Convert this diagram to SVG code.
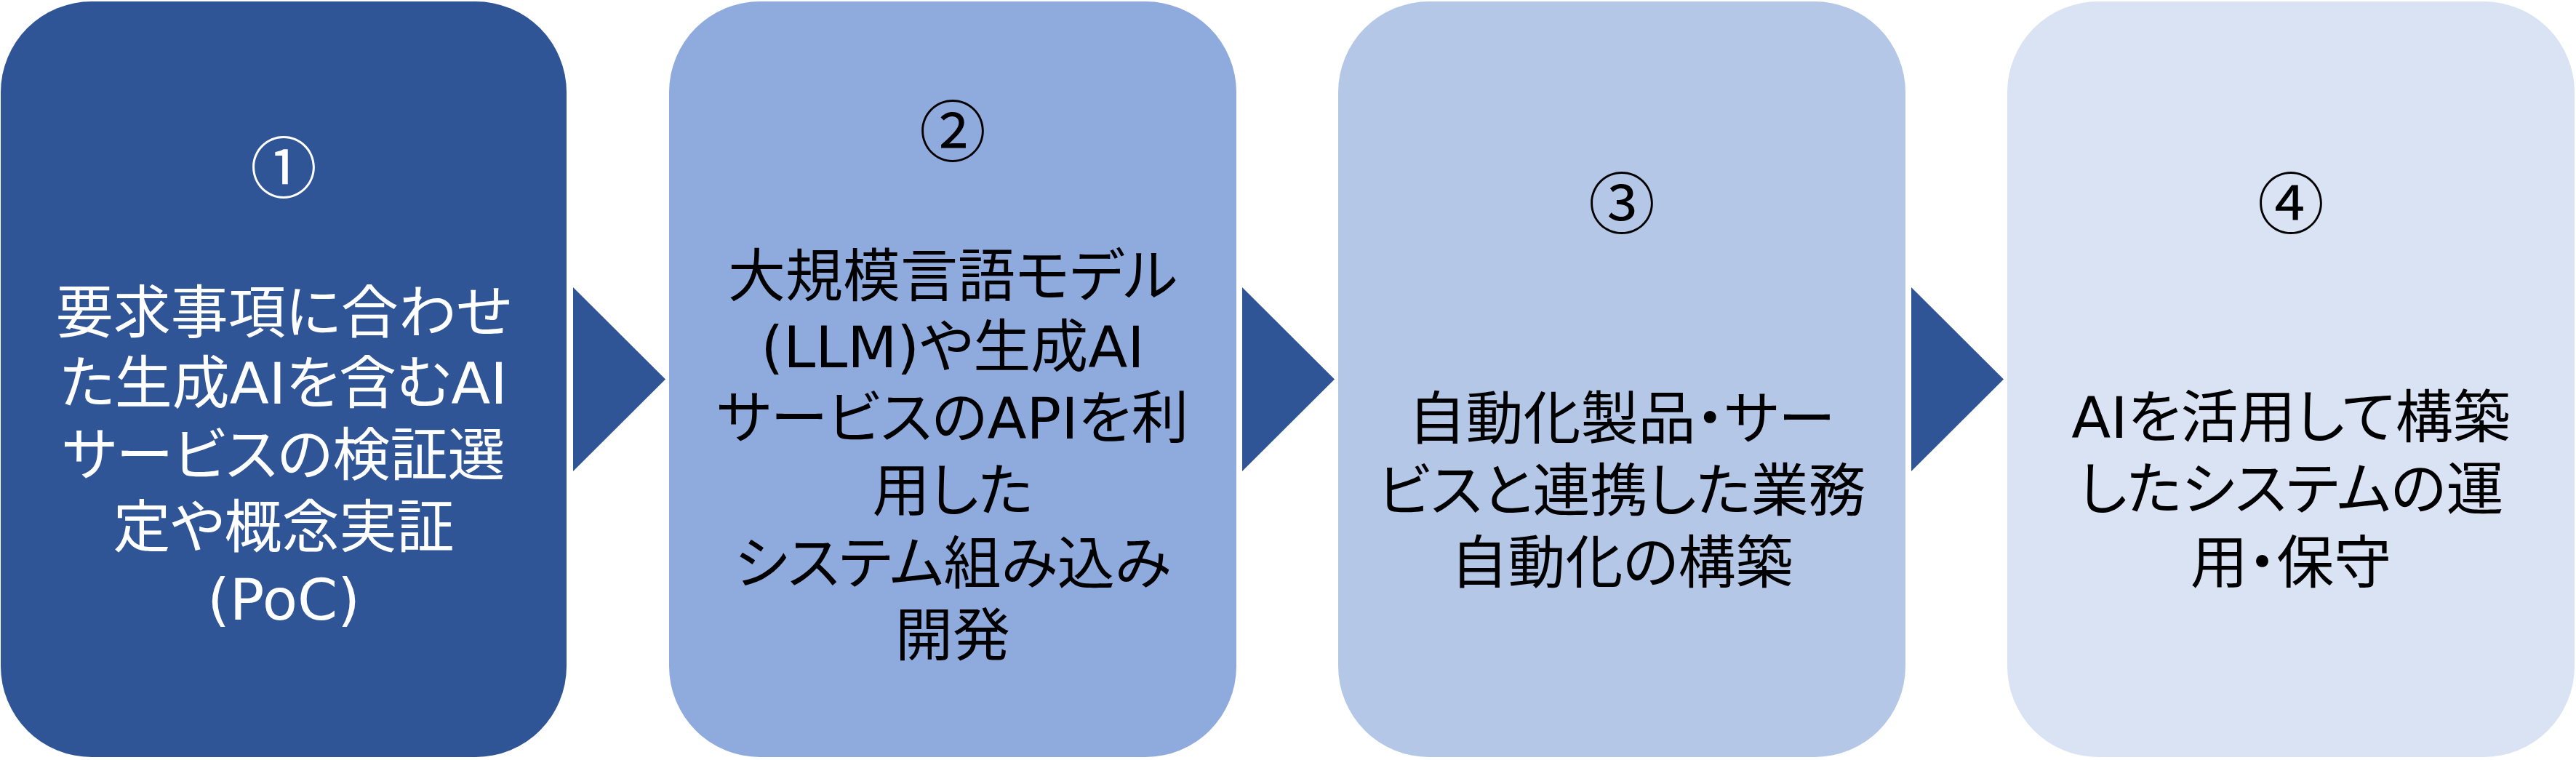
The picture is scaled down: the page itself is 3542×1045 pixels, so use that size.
<svg xmlns="http://www.w3.org/2000/svg" width="3542" height="1045" viewBox="0 0 3542 1045">
<style>
.box1{fill:#2F5597}
.box2{fill:#8FAADC}
.box3{fill:#B4C7E7}
.box4{fill:#DAE3F3}
.arrow{fill:#2F5597}
.t{font-family:"DejaVu Sans","Noto Sans CJK JP",sans-serif;font-size:79px;text-anchor:middle;font-feature-settings:"palt" 1}
.num{font-family:"Noto Sans CJK JP",sans-serif;font-size:92px;text-anchor:middle}
.w{fill:#FFFFFF}
.k{fill:#000000}
</style>
<rect width="3542" height="1045" fill="#FFFFFF"/>
<g id="node1">
<rect class="box1" x="1" y="2" width="778" height="1039" rx="125" ry="125"/>
<text class="num w" x="390" y="265">①</text>
<text class="t w"><tspan x="390" y="458">要求事項に合わせ</tspan><tspan x="390" y="555">た生成AIを含むAI</tspan><tspan x="390" y="654">サービスの検証選</tspan><tspan x="390" y="753">定や概念実証</tspan><tspan x="390" y="852">(PoC)</tspan></text>
</g>
<g id="node2">
<rect class="box2" x="920" y="2" width="780" height="1039" rx="125" ry="125"/>
<text class="num k" x="1310" y="215">②</text>
<text class="t k"><tspan x="1310" y="408">大規模言語モデル</tspan><tspan x="1310" y="505">(LLM)や生成AI</tspan><tspan x="1310" y="603">サービスのAPIを利</tspan><tspan x="1310" y="703">用した</tspan><tspan x="1310" y="803">システム組み込み</tspan><tspan x="1310" y="902">開発</tspan></text>
</g>
<g id="node3">
<rect class="box3" x="1840" y="2" width="780" height="1039" rx="125" ry="125"/>
<text class="num k" x="2230" y="314">③</text>
<text class="t k"><tspan x="2230" y="604">自動化製品・サー</tspan><tspan x="2230" y="703">ビスと連携した業務</tspan><tspan x="2230" y="802">自動化の構築</tspan></text>
</g>
<g id="node4">
<rect class="box4" x="2760" y="2" width="780" height="1039" rx="125" ry="125"/>
<text class="num k" x="3150" y="314">④</text>
<text class="t k"><tspan x="3150" y="602">AIを活用して構築</tspan><tspan x="3150" y="701">したシステムの運</tspan><tspan x="3150" y="802">用・保守</tspan></text>
</g>
<g id="connectors">
<polygon class="arrow" points="788,395 915,521.5 788,648"/>
<polygon class="arrow" points="1708,395 1835,521.5 1708,648"/>
<polygon class="arrow" points="2628,395 2755,521.5 2628,648"/>
</g>
</svg>
